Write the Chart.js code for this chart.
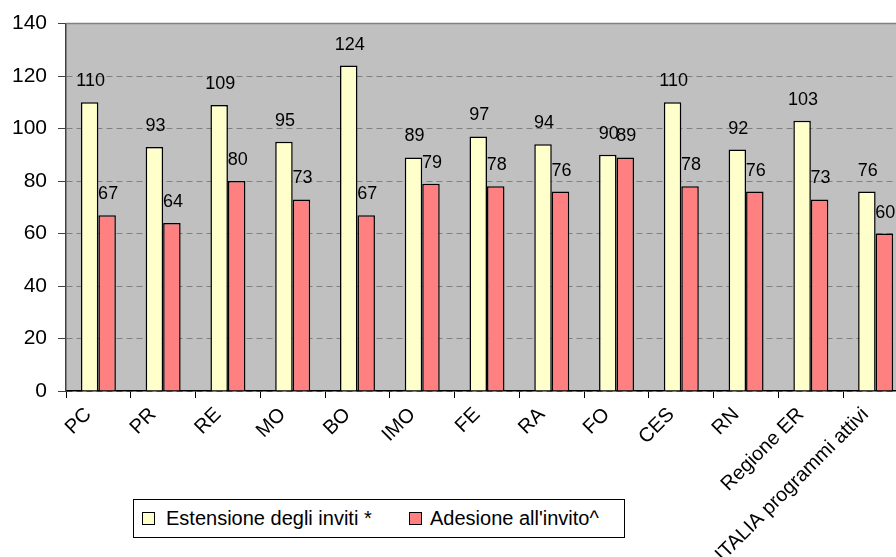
<!DOCTYPE html>
<html>
<head>
<meta charset="utf-8">
<script src="https://cdn.jsdelivr.net/npm/chart.js@4/dist/chart.umd.min.js"></script>
<style>
html,body{margin:0;padding:0;background:#fff;overflow:hidden;width:896px;height:557px;}
#wrap{position:relative;width:911px;height:560px;}
#legend{position:absolute;left:133px;top:499px;width:492px;height:39px;box-sizing:border-box;border:1px solid #000;background:#fff;
  font-family:"Liberation Sans",Arial,sans-serif;font-size:20px;color:#000;white-space:nowrap;}
.sw{position:absolute;top:12px;width:11px;height:11px;border:1px solid #000;}
.lt{position:absolute;top:7px;line-height:22px;}
</style>
</head>
<body>
<div id="wrap">
<canvas id="c" width="911" height="560"></canvas>
<div id="legend">
  <span class="sw" style="left:8px;background:#FFFFCC"></span><span class="lt" style="left:32px">Estensione degli inviti *</span>
  <span class="sw" style="left:275px;background:#FF8080"></span><span class="lt" style="left:296px">Adesione all'invito^</span>
</div>
</div>
<script>
const categories = ["PC","PR","RE","MO","BO","IMO","FE","RA","FO","CES","RN","Regione ER","ITALIA programmi attivi"];
const estensione = [110, 93, 109, 95, 124, 89, 97, 94, 90, 110, 92, 103, 76];
const adesione   = [67, 64, 80, 73, 67, 79, 78, 76, 89, 78, 76, 73, 60];
const seriesNames = ["Estensione degli inviti *", "Adesione all'invito^"];
const yTicks = [0, 20, 40, 60, 80, 100, 120, 140];

const FONT = '"Liberation Sans", Arial, sans-serif';

const plotBg = {
  id: 'plotBg',
  beforeDraw(chart) {
    const {ctx, chartArea: a} = chart;
    ctx.save();
    ctx.fillStyle = '#C0C0C0';
    ctx.fillRect(a.left, a.top, a.right - a.left, a.bottom - a.top);
    ctx.restore();
  },
  beforeDatasetsDraw(chart) {
    const {ctx, chartArea: a} = chart;
    ctx.save();
    ctx.strokeStyle = '#808080';
    ctx.lineWidth = 1.5;
    ctx.beginPath();
    ctx.moveTo(a.left, a.top);
    ctx.lineTo(a.right, a.top);
    ctx.lineTo(a.right, a.bottom);
    ctx.stroke();
    ctx.restore();
  }
};

const valueLabels = {
  id: 'valueLabels',
  afterDatasetsDraw(chart) {
    const ctx = chart.ctx;
    ctx.save();
    ctx.font = '18px ' + FONT;
    ctx.fillStyle = '#000';
    ctx.textAlign = 'center';
    ctx.textBaseline = 'alphabetic';
    chart.data.datasets.forEach((ds, i) => {
      const meta = chart.getDatasetMeta(i);
      meta.data.forEach((bar, j) => {
        ctx.fillText(String(ds.data[j]), bar.x + 1, bar.y - 16);
      });
    });
    ctx.restore();
  }
};

new Chart(document.getElementById('c'), {
  type: 'bar',
  data: {
    labels: categories,
    datasets: [
      {label: seriesNames[0], data: estensione, backgroundColor: '#FFFFCC', borderColor: '#000', borderWidth: 1.5,
       categoryPercentage: 0.54, barPercentage: 1.0},
      {label: seriesNames[1], data: adesione, backgroundColor: '#FF8080', borderColor: '#000', borderWidth: 1.5,
       categoryPercentage: 0.54, barPercentage: 1.0}
    ]
  },
  options: {
    responsive: false,
    animation: false,
    layout: {padding: {top: 22, right: 3, left: 0, bottom: 0}},
    plugins: {legend: {display: false}, tooltip: {enabled: false}},
    scales: {
      x: {
        grid: {display: true, drawOnChartArea: false, drawTicks: true, tickLength: 7, color: '#000', offset: true},
        border: {display: true, color: '#000', width: 1.5},
        ticks: {font: {size: 20, family: FONT}, color: '#000', minRotation: 45, maxRotation: 45, autoSkip: false,
                padding: 5, labelOffset: -10},
        afterFit(s) { s.height = 169; }
      },
      y: {
        min: 0, max: 140,
        afterBuildTicks(s) { s.ticks = yTicks.map(v => ({value: v})); },
        grid: {color: '#808080', lineWidth: 1, tickLength: 8, tickColor: '#404040'},
        border: {display: true, color: '#404040', width: 1.5, dash: [6, 4]},
        ticks: {font: {size: 21, family: FONT}, color: '#000', padding: 11},
        afterFit(s) { s.width = 66; }
      }
    }
  },
  plugins: [plotBg, valueLabels]
});
</script>
</body>
</html>
